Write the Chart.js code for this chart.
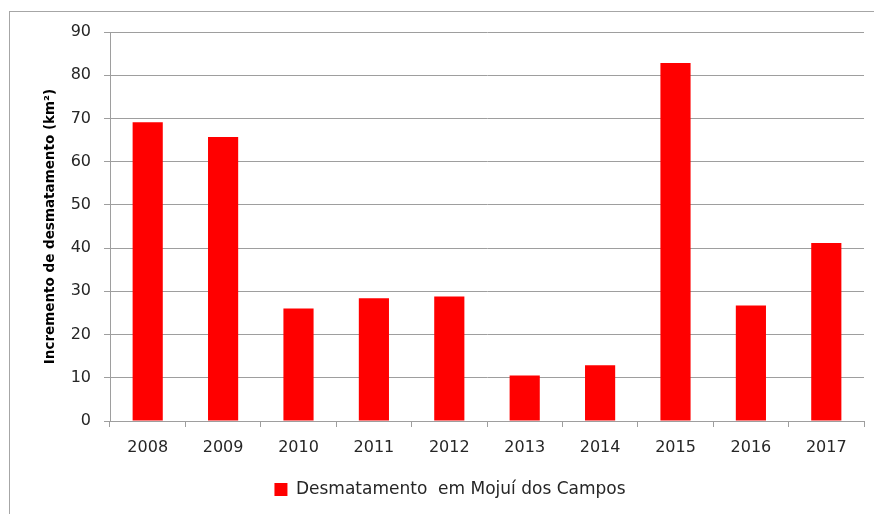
<!DOCTYPE html>
<html>
<head>
<meta charset="utf-8">
<script src="https://cdn.jsdelivr.net/npm/chart.js@4/dist/chart.umd.min.js"></script>
<style>
html,body{margin:0;padding:0;background:#fff;overflow:hidden}
#wrap{position:relative;width:874px;height:514px}
#frame{position:absolute;left:9px;top:11px;width:900px;height:600px;border-left:1px solid #a6a6a6;border-top:1px solid #a6a6a6}
#c{position:absolute;left:0;top:0}
</style>
</head>
<body>
<div id="wrap">
  <div id="frame"></div>
  <canvas id="c" width="874" height="514"></canvas>
</div>
<script>
// anos e incremento anual (km²)
var anos=['2008','2009','2010','2011','2012','2013','2014','2015','2016','2017'];
var incremento=[69.1,65.7,26.0,28.4,28.8,10.5,12.9,82.8,26.7,41.2];
var serieNome='Desmatamento  em Mojuí dos Campos';
var eixoY='Incremento de desmatamento (km²)';

var TXT='#262626', GRID='#9e9e9e';
Chart.defaults.font.family="'DejaVu Sans',sans-serif";
Chart.defaults.color=TXT;
Chart.defaults.animation=false;

new Chart(document.getElementById('c').getContext('2d'),{
    type:'bar',
    data:{labels:anos,datasets:[{label:serieNome,data:incremento,backgroundColor:'#ff0000',borderWidth:0,barPercentage:0.4,categoryPercentage:1}]},
    options:{
        responsive:false,maintainAspectRatio:false,
        layout:{padding:{left:36,right:10,top:32,bottom:6}},
        plugins:{
            legend:{position:'bottom',labels:{boxWidth:13,boxHeight:13,padding:16,color:TXT,font:{size:17}}},
            tooltip:{enabled:false}
        },
        scales:{
            x:{
                grid:{offset:true,drawOnChartArea:false,color:GRID,tickLength:6},
                border:{color:GRID},
                ticks:{padding:11,font:{size:16},color:TXT},
                afterFit:function(s){s.height=44}
            },
            y:{
                min:0,max:90,
                grid:{color:GRID,tickLength:6},
                border:{color:GRID},
                ticks:{stepSize:10,padding:13,font:{size:16},color:TXT},
                title:{display:true,text:eixoY,color:'#000',font:{size:13.5,weight:'bold'},padding:{top:6,bottom:0}},
                afterFit:function(s){s.width=74}
            }
        }
    }
});
</script>
</body>
</html>
